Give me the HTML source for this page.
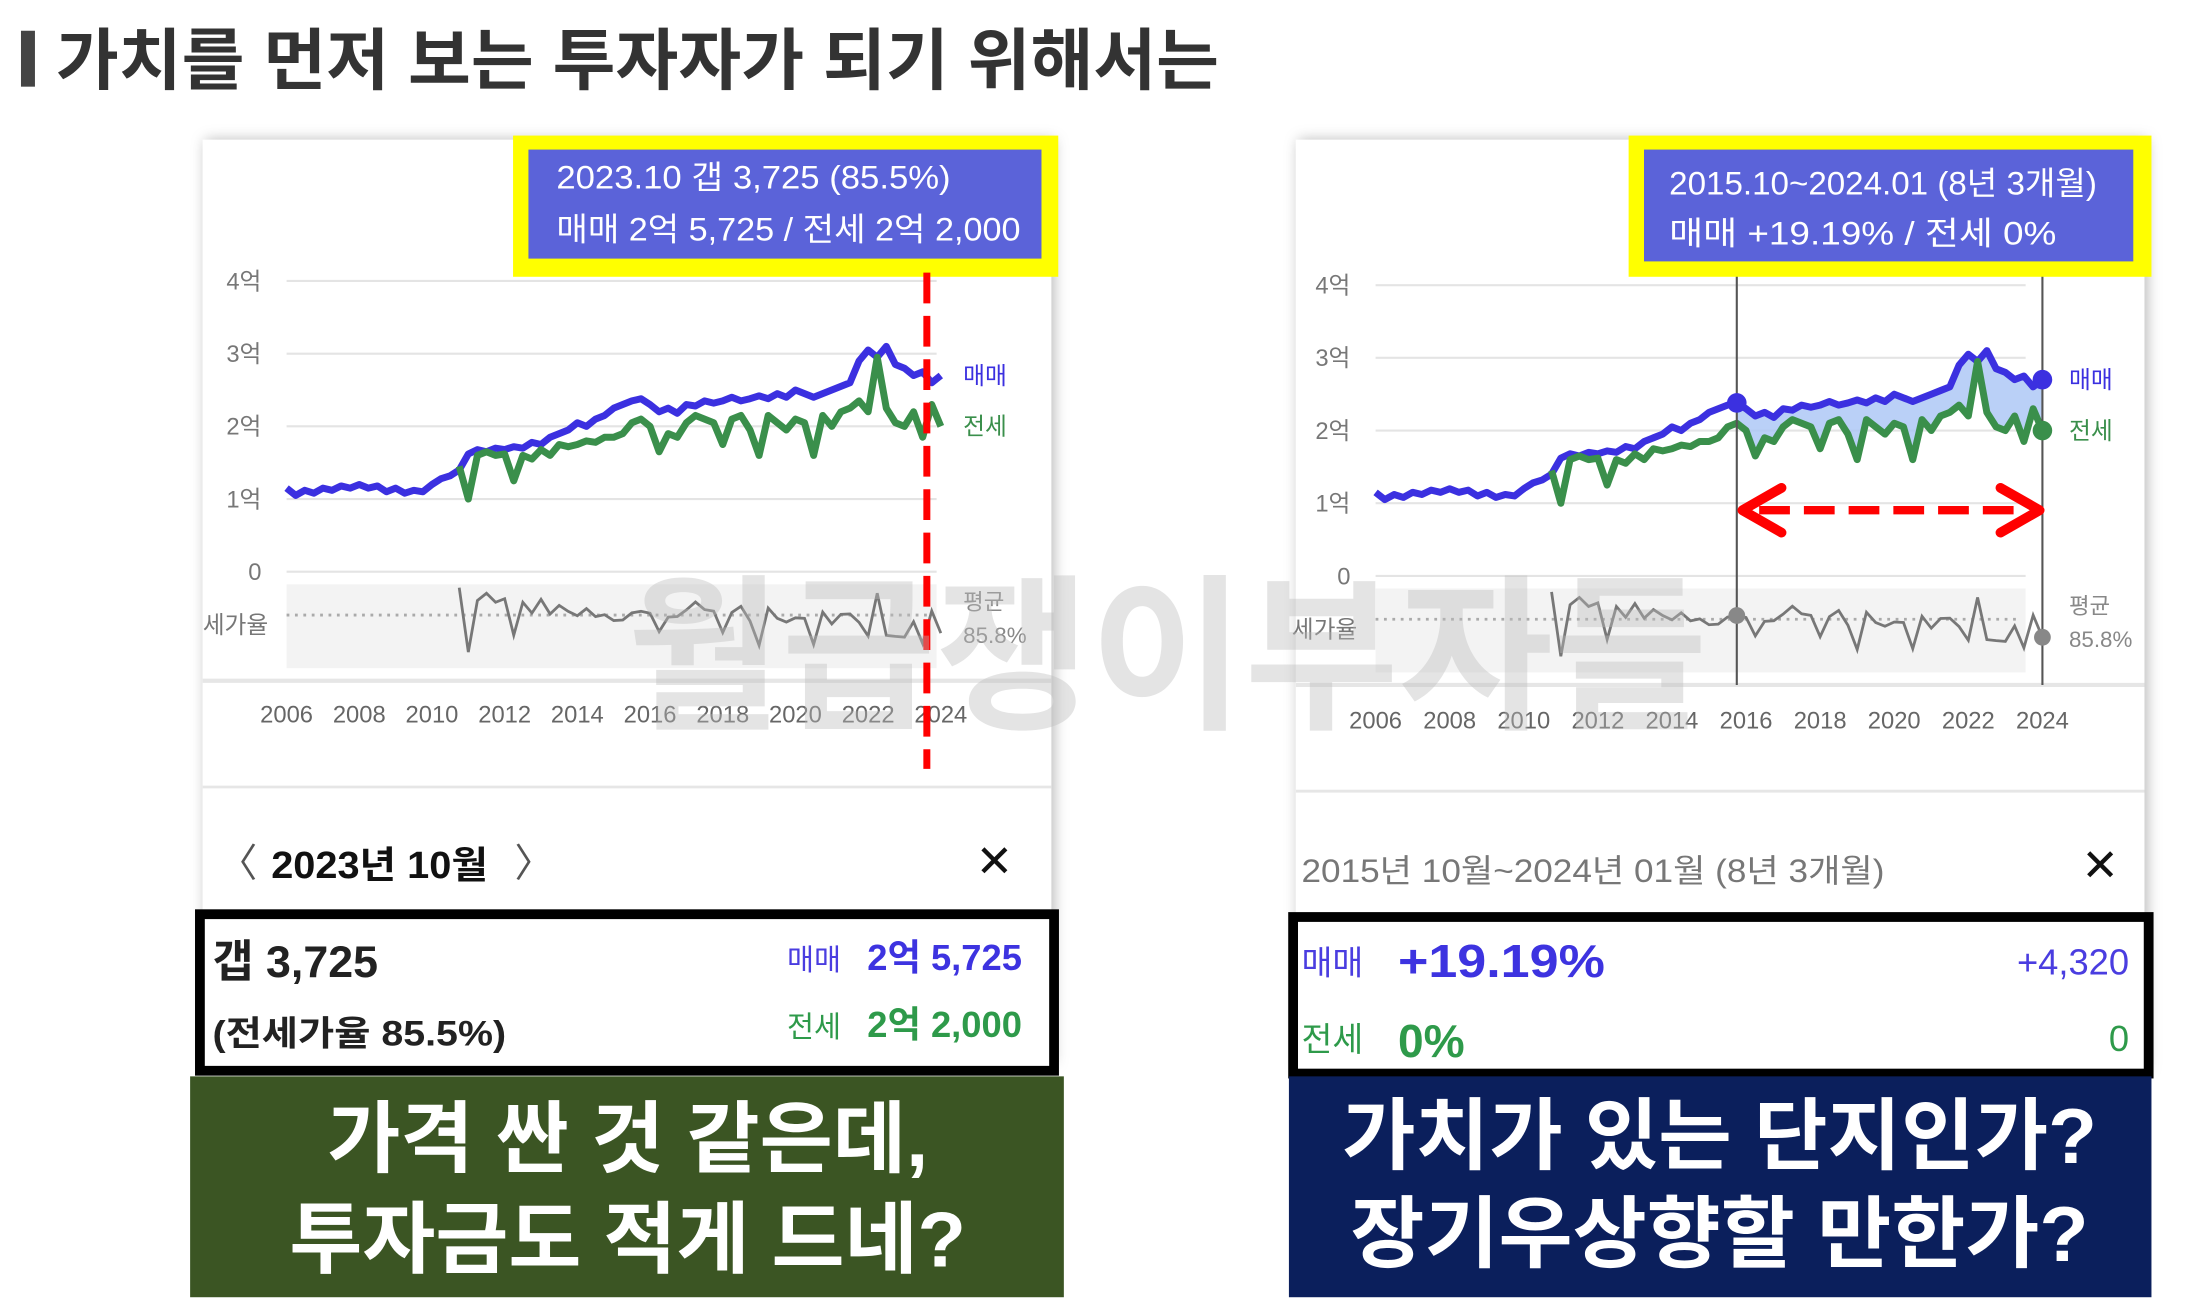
<!DOCTYPE html>
<html><head><meta charset="utf-8"><style>
html,body{margin:0;padding:0;background:#fff;}
svg{display:block;font-family:"Liberation Sans","Noto Sans CJK KR",sans-serif;}
</style></head><body>
<svg id="root" width="2192" height="1314" viewBox="0 0 1568 940" preserveAspectRatio="none" xmlns="http://www.w3.org/2000/svg">
<defs>
<filter id="sh" x="-10%" y="-10%" width="120%" height="120%"><feDropShadow dx="2" dy="0" stdDeviation="5" flood-color="#000" flood-opacity="0.28"/></filter>
</defs>
<rect x="0" y="0" width="1568" height="940" fill="#fff"/>
<rect x="15" y="22" width="10" height="40" fill="#444"/>
<text x="40" y="60" font-size="48" font-weight="bold" fill="#333" textLength="832" lengthAdjust="spacingAndGlyphs">가치를 먼저 보는 투자자가 되기 위해서는</text>

<!-- left card -->
<g>
<rect x="145" y="100" width="607" height="660" fill="#fff" filter="url(#sh)"/>
<line x1="145" y1="487" x2="752" y2="487" stroke="#e6e6e6" stroke-width="3"/>
<line x1="145" y1="563" x2="752" y2="563" stroke="#e6e6e6" stroke-width="2"/>
<g id="chartL"></g>
<rect x="367" y="97" width="390" height="101" fill="#ffff00"/>
<rect x="378" y="107" width="367" height="78" fill="#5b63d9"/>
<text x="398" y="135" font-size="23" fill="#fff" textLength="282" lengthAdjust="spacingAndGlyphs">2023.10  갭 3,725 (85.5%)</text>
<text x="398" y="172" font-size="23" fill="#fff" textLength="332" lengthAdjust="spacingAndGlyphs">매매 2억 5,725 / 전세 2억 2,000</text>
<line x1="663" y1="195" x2="663" y2="550" stroke="#f00" stroke-width="5" stroke-dasharray="22 9"/>
<text x="156" y="627" font-size="28" fill="#555">〈</text>
<text x="194" y="628" font-size="27" font-weight="bold" fill="#111" textLength="155" lengthAdjust="spacingAndGlyphs">2023년 10월</text>
<text x="368" y="627" font-size="28" fill="#555">〉</text>
<text x="698" y="627" font-size="32" fill="#111">✕</text>
<rect x="143" y="654" width="611" height="112" fill="#fff" stroke="#000" stroke-width="7"/>
<text x="152" y="699" font-size="32" font-weight="bold" fill="#222">갭 3,725</text>
<text x="152" y="748" font-size="25" font-weight="bold" fill="#222" textLength="210" lengthAdjust="spacingAndGlyphs">(전세가율 85.5%)</text>
<text x="563" y="694" font-size="21" fill="#4a3de0">매매</text>
<text x="731" y="694" font-size="26" font-weight="bold" fill="#3d33e0" text-anchor="end">2억 5,725</text>
<text x="563" y="742" font-size="21" fill="#2e9a4a">전세</text>
<text x="731" y="742" font-size="26" font-weight="bold" fill="#2e9a4a" text-anchor="end">2억 2,000</text>
</g>
<rect x="136" y="770" width="625" height="158" fill="#3b5523"/>
<text x="449" y="834" font-size="56" font-weight="bold" fill="#fff" text-anchor="middle" textLength="430" lengthAdjust="spacingAndGlyphs">가격 싼 것 같은데,</text>
<text x="449" y="906" font-size="56" font-weight="bold" fill="#fff" text-anchor="middle" textLength="484" lengthAdjust="spacingAndGlyphs">투자금도 적게 드네?</text>

<!-- right card -->
<g>
<rect x="927" y="100" width="607" height="665" fill="#fff" filter="url(#sh)"/>
<line x1="927" y1="490" x2="1534" y2="490" stroke="#e6e6e6" stroke-width="3"/>
<line x1="927" y1="566" x2="1534" y2="566" stroke="#e6e6e6" stroke-width="2"/>
<g id="chartR"></g>
<rect x="1165" y="97" width="374" height="101" fill="#ffff00"/>
<rect x="1176" y="107" width="350" height="80" fill="#5b63d9"/>
<text x="1194" y="139" font-size="23" fill="#fff" textLength="306" lengthAdjust="spacingAndGlyphs">2015.10~2024.01 (8년 3개월)</text>
<text x="1194" y="175" font-size="23" fill="#fff" textLength="277" lengthAdjust="spacingAndGlyphs">매매 +19.19%  /  전세 0%</text>
<text x="931" y="631" font-size="23" fill="#777" textLength="417" lengthAdjust="spacingAndGlyphs">2015년 10월~2024년 01월 (8년 3개월)</text>
<text x="1489" y="630" font-size="32" fill="#111">✕</text>
<rect x="925" y="656" width="612" height="112" fill="#fff" stroke="#000" stroke-width="7"/>
<text x="931" y="697" font-size="24" fill="#4a3de0">매매</text>
<text x="1000" y="699" font-size="33" font-weight="bold" fill="#3d33e0" textLength="148" lengthAdjust="spacingAndGlyphs">+19.19%</text>
<text x="1523" y="697" font-size="26" fill="#4a3de0" text-anchor="end">+4,320</text>
<text x="931" y="752" font-size="24" fill="#2e9a4a">전세</text>
<text x="1000" y="756" font-size="33" font-weight="bold" fill="#2e9a4a">0%</text>
<text x="1523" y="752" font-size="26" fill="#2e9a4a" text-anchor="end">0</text>
</g>
<rect x="922" y="770" width="617" height="158" fill="#0b1f5c"/>
<text x="1230" y="832" font-size="56" font-weight="bold" fill="#fff" text-anchor="middle" textLength="540" lengthAdjust="spacingAndGlyphs">가치가 있는 단지인가?</text>
<text x="1230" y="902" font-size="56" font-weight="bold" fill="#fff" text-anchor="middle" textLength="528" lengthAdjust="spacingAndGlyphs">장기우상향할 만한가?</text>

<text x="835" y="512" font-size="120" font-weight="bold" fill="#bbb" fill-opacity="0.4" text-anchor="middle">월급쟁이부자들</text>
</svg>
<script>
const years = ["2006","2008","2010","2012","2014","2016","2018","2020","2022","2024"];
const yTicks = ["0","1억","2억","3억","4억"];
const saleStart = 2006;
const saleValues = [1.15,1.05,1.12,1.08, 1.15,1.12,1.18,1.15, 1.2,1.15,1.18,1.1, 1.15,1.08,1.12,1.1, 1.2,1.28,1.32,1.4,
 1.62,1.68,1.65,1.7, 1.68,1.72,1.7,1.78, 1.75,1.85,1.9,1.95, 2.05,2.0,2.1,2.15, 2.25,2.3,2.35,2.38,
 2.3,2.2,2.25,2.18, 2.3,2.28,2.35,2.32, 2.35,2.4,2.35,2.38, 2.42,2.38,2.45,2.4, 2.5,2.45,2.4,2.45,
 2.5,2.55,2.6,2.9, 3.05,2.95,3.1,2.85, 2.8,2.7,2.75,2.6, 2.7];
const jeonseStart = 2010.75;
const jeonseValues = [1.45, 1.0,1.6,1.65,1.6, 1.62,1.25,1.6,1.55, 1.68,1.6,1.75,1.72, 1.75,1.8,1.78,1.85,
 1.85,1.9,2.05,2.1, 2.0,1.65,1.9,1.85, 2.05,2.15,2.1,2.05, 1.75,2.1,2.15,1.95, 1.6,2.15,2.05,1.95,
 2.1,2.05,1.6,2.15, 2.0,2.2,2.25,2.35, 2.2,2.95,2.25,2.05, 2.0,2.2,1.85,2.3, 2.0];
const avgRatio = 0.858;
const rangeStart = 2015.75, rangeEnd = 2024;

const NS="http://www.w3.org/2000/svg";
function mk(parent,tag,attrs){const e=document.createElementNS(NS,tag);for(const k in attrs)e.setAttribute(k,attrs[k]);parent.appendChild(e);return e;}

function drawChart(g,cfg){
  const xS=v=>cfg.x0+(v-2006)*cfg.step;
  const yS=v=>cfg.y0-v*cfg.unit;
  const rY=r=>cfg.rY0-(r-avgRatio)*cfg.rUnit;
  yTicks.forEach((t,i)=>{
    const ln=mk(g,'line',{x1:cfg.x0,x2:cfg.x0+465,y1:yS(i),y2:yS(i),stroke:'#e4e4e4','stroke-width':1.5});
    
    
    const tx=mk(g,'text',{x:cfg.x0-18,y:yS(i)+6,'font-size':17,fill:'#777','text-anchor':'end'});
    
    
    tx.textContent=t;
  });
  const band=mk(g,'rect',{x:cfg.x0,y:cfg.rY0-22,width:465,height:60,fill:'#f3f3f3'});
  
  
  years.forEach(t=>{
    const tx=mk(g,'text',{x:xS(+t),y:cfg.xLabY,'font-size':17,fill:'#666','text-anchor':'middle'});
    
    
    tx.textContent=t;
  });
  const sp=saleValues.map((v,i)=>[xS(saleStart+i*0.25),yS(v)]);
  const jp=jeonseValues.map((v,i)=>[xS(jeonseStart+i*0.25),yS(v)]);
  if(cfg.range){
    const inR=t=>t>=rangeStart-1e-6&&t<=rangeEnd+1e-6;
    const top=[],bot=[];
    saleValues.forEach((v,i)=>{const t=saleStart+i*0.25;if(inR(t))top.push([xS(t),yS(v)]);});
    jeonseValues.forEach((v,i)=>{const t=jeonseStart+i*0.25;if(inR(t))bot.push([xS(t),yS(v)]);});
    const pts=top.concat(bot.reverse()).map(p=>p.join(',')).join(' ');
    const f=mk(g,'polygon',{points:pts,fill:'#a9c4f5','fill-opacity':0.8});
    
    
  }
  const ls=mk(g,'polyline',{points:sp.map(p=>p.join(',')).join(' '),fill:'none',stroke:'#3b30e0','stroke-width':5,'stroke-linejoin':'round'});
  
  
  const lj=mk(g,'polyline',{points:jp.map(p=>p.join(',')).join(' '),fill:'none',stroke:'#3a8f4b','stroke-width':5,'stroke-linejoin':'round'});
  
  
  const av=mk(g,'line',{x1:cfg.x0,x2:cfg.x0+462,y1:cfg.rY0,y2:cfg.rY0,stroke:'#aaa','stroke-width':2,'stroke-dasharray':'2 4'});
  
  
  const rp=jeonseValues.map((v,i)=>{const t=jeonseStart+i*0.25;const s=saleValues[Math.round((t-saleStart)/0.25)];return [xS(t),rY(v/s)];});
  const lr=mk(g,'polyline',{points:rp.map(p=>p.join(',')).join(' '),fill:'none',stroke:'#777','stroke-width':2});
  
  
  const lab=(x,y,s,c,sz,name)=>{const t=mk(g,'text',{x:x,y:y,'font-size':sz,fill:c});t.textContent=s;};
  const lastS=saleValues[saleValues.length-1], lastJ=jeonseValues[jeonseValues.length-1];
  lab(cfg.legX,yS(lastS)+6,'매매','#3b30e0',17,'legend-sale');
  lab(cfg.legX,yS(lastJ)+6,'전세','#3a8f4b',17,'legend-jeonse');
  lab(cfg.legX,cfg.rY0-4,'평균','#888',16,'legend-average');
  lab(cfg.legX,cfg.rY0+20,'85.8%','#888',16,'legend-average-value');
  lab(cfg.x0-60,cfg.rY0+13,'세가율','#777',17,'ratio-axis-label');
  if(cfg.range){
    [rangeStart,rangeEnd].forEach(t=>{
      const l=mk(g,'line',{x1:xS(t),x2:xS(t),y1:195,y2:490,stroke:'#555','stroke-width':1.5});
      
      
    });
    const sA=saleValues[Math.round((rangeStart-saleStart)/0.25)], jA=jeonseValues[Math.round((rangeStart-jeonseStart)/0.25)];
    [[rangeStart,sA,'#3b30e0'],[rangeEnd,lastS,'#3b30e0'],[rangeEnd,lastJ,'#3a8f4b']].forEach(d=>{
      const c=mk(g,'circle',{cx:xS(d[0]),cy:yS(d[1]),r:7,fill:d[2]});
      
      
    });
    [[rangeStart,jA/sA],[rangeEnd,lastJ/lastS]].forEach(d=>{
      const c=mk(g,'circle',{cx:xS(d[0]),cy:rY(d[1]),r:6,fill:'#888'});
      
      
    });
    const ay=365,ax1=xS(rangeStart)+4,ax2=xS(rangeEnd)-2;
    const a=mk(g,'line',{x1:ax1+12,x2:ax2-12,y1:ay,y2:ay,stroke:'#f00','stroke-width':6,'stroke-dasharray':'22 10'});
    
    
    const h1=mk(g,'polyline',{points:`${ax1+28},${ay-16} ${ax1},${ay} ${ax1+28},${ay+16}`,fill:'none',stroke:'#f00','stroke-width':7,'stroke-linecap':'round','stroke-linejoin':'round'});
    
    
    const h2=mk(g,'polyline',{points:`${ax2-28},${ay-16} ${ax2},${ay} ${ax2-28},${ay+16}`,fill:'none',stroke:'#f00','stroke-width':7,'stroke-linecap':'round','stroke-linejoin':'round'});
    
    
  }
}
drawChart(document.getElementById('chartL'),{x0:205,step:26,y0:409,unit:52,rY0:440,rUnit:110,xLabY:517,legX:689,range:false});
drawChart(document.getElementById('chartR'),{x0:984,step:26.5,y0:412,unit:52,rY0:443,rUnit:110,xLabY:521,legX:1480,range:true});
</script>
</body></html>
